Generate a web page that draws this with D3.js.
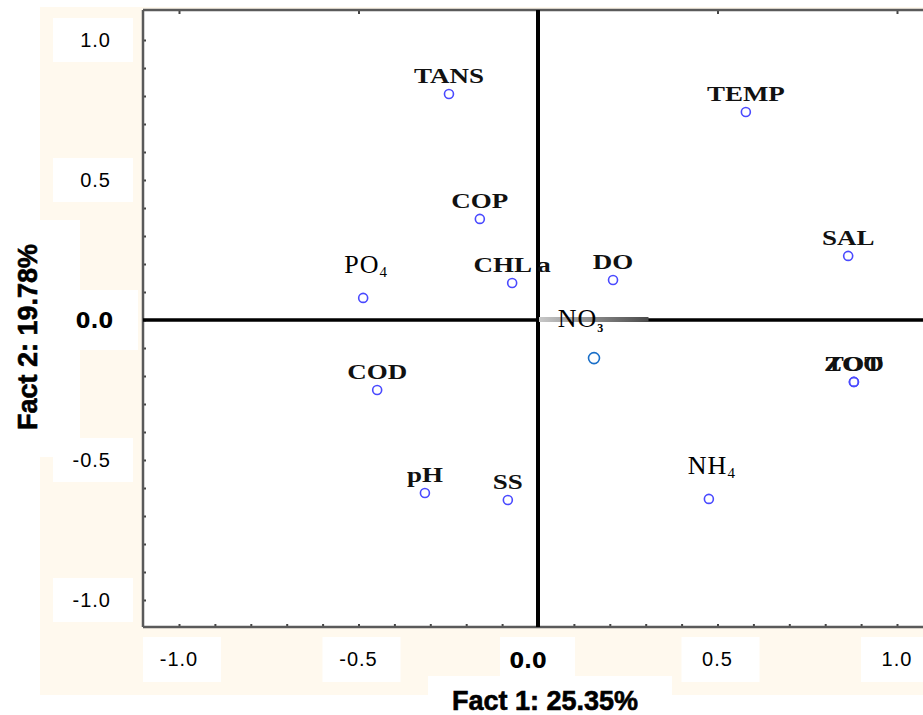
<!DOCTYPE html>
<html>
<head>
<meta charset="utf-8">
<script src="https://cdn.jsdelivr.net/npm/d3@7"></script>
<style>
body { margin: 0; background: #fff; }
</style>
</head>
<body>
<script>
// variables and their loadings on factor 1 / factor 2
const varNames = ["TANS", "TEMP", "COP", "SAL", "PO4", "CHL a", "DO", "NO3", "ZOO", "TOT", "COD", "pH", "SS", "NH4"];
const fact1 = [-0.248, 0.579, -0.162, 0.864, -0.487, -0.072, 0.209, 0.156, 0.880, 0.880, -0.448, -0.315, -0.084, 0.476];
const fact2 = [0.807, 0.743, 0.361, 0.229, 0.079, 0.132, 0.143, -0.136, -0.221, -0.221, -0.250, -0.618, -0.643, -0.639];

// labelled ticks and axis titles
const majorTicks = [-1.0, -0.5, 0.0, 0.5, 1.0];
const xTitle = "Fact 1: 25.35%";
const yTitle = "Fact 2: 19.78%";

// canvas and plot frame
const canvWidth = 923, canvHeight = 715;
const plot = {left: 143, top: 10, right: 923, bottom: 627};

const svg = d3.select("body").append("svg")
    .attr("width", canvWidth)
    .attr("height", canvHeight)
    .style("display", "block");

const xScale = d3.scaleLinear().domain([-1, 1]).range([179, 897]);
const yScale = d3.scaleLinear().domain([-1, 1]).range([600, 40]);

// cream panel behind the axes, white plot area on top
svg.append("rect").attr("width", canvWidth).attr("height", canvHeight).attr("fill", "#fff");
svg.append("rect")
    .attr("x", 40).attr("y", 7)
    .attr("width", canvWidth - 40).attr("height", 688)
    .attr("fill", "#fff9ee");
svg.append("rect")
    .attr("x", plot.left).attr("y", plot.top)
    .attr("width", plot.right - plot.left).attr("height", plot.bottom - plot.top)
    .attr("fill", "#fff");

// white boxes behind tick labels and titles
const nonZero = majorTicks.filter(d => d !== 0);
svg.selectAll("rect.ybox").data(nonZero).enter().append("rect")
    .attr("class", "ybox")
    .attr("x", 53).attr("y", d => yScale(d) - 22)
    .attr("width", 80).attr("height", 44)
    .attr("fill", "#fff");
svg.selectAll("rect.xbox").data(nonZero).enter().append("rect")
    .attr("class", "xbox")
    .attr("x", d => xScale(d) + 3 - 39).attr("y", 637)
    .attr("width", 78).attr("height", 45)
    .attr("fill", "#fff");
svg.append("rect").attr("x", 70).attr("y", yScale(0) - 30).attr("width", 68).attr("height", 60).attr("fill", "#fff");
svg.append("rect").attr("x", 500).attr("y", 637).attr("width", 75).attr("height", 40).attr("fill", "#fff");
svg.append("rect").attr("x", 428).attr("y", 676).attr("width", 244).attr("height", 39).attr("fill", "#fff");
svg.append("rect").attr("x", 0).attr("y", 220).attr("width", 80).attr("height", 237).attr("fill", "#fff");

// minor tick marks (every 0.1) pointing into the plot
const xAxis = d3.axisBottom(xScale).ticks(20).tickSize(-3).tickFormat("");
svg.append("g")
    .attr("id", "xAxis")
    .attr("transform", `translate(0,${plot.bottom})`)
    .call(xAxis)
    .call(g => g.select(".domain").remove())
    .selectAll("line").attr("stroke", "#444").attr("stroke-width", 2);

const yAxis = d3.axisLeft(yScale).ticks(20).tickSize(-3).tickFormat("");
svg.append("g")
    .attr("id", "yAxis")
    .attr("transform", `translate(${plot.left},0)`)
    .call(yAxis)
    .call(g => g.select(".domain").remove())
    .selectAll("line").attr("stroke", "#444").attr("stroke-width", 2);

const topAxis = d3.axisTop(xScale).tickValues(nonZero).tickSize(-4).tickFormat("");
svg.append("g")
    .attr("transform", `translate(0,${plot.top})`)
    .call(topAxis)
    .call(g => g.select(".domain").remove())
    .selectAll("line").attr("stroke", "#444").attr("stroke-width", 2);

// frame lines
const frame = svg.append("g").attr("stroke", "#5a5a5a").attr("stroke-width", 2.5);
frame.append("line").attr("x1", plot.left).attr("x2", plot.right).attr("y1", plot.top).attr("y2", plot.top);
frame.append("line").attr("x1", plot.left).attr("x2", plot.left).attr("y1", plot.top).attr("y2", plot.bottom);
frame.append("line").attr("x1", plot.left).attr("x2", plot.right).attr("y1", plot.bottom).attr("y2", plot.bottom);

// zero lines
svg.append("line")
    .attr("x1", plot.left).attr("x2", plot.right)
    .attr("y1", yScale(0)).attr("y2", yScale(0))
    .attr("stroke", "#000").attr("stroke-width", 3.5);
svg.append("line")
    .attr("x1", xScale(0)).attr("x2", xScale(0))
    .attr("y1", plot.top).attr("y2", plot.bottom)
    .attr("stroke", "#000").attr("stroke-width", 4);

// short grey vector along the x axis
const grad = svg.append("defs").append("linearGradient").attr("id", "vec");
grad.append("stop").attr("offset", "0%").attr("stop-color", "#c8c8c8");
grad.append("stop").attr("offset", "100%").attr("stop-color", "#4a4a4a");
svg.append("rect")
    .attr("x", xScale(0) + 1).attr("y", yScale(0) - 3)
    .attr("width", xScale(0.305) - xScale(0)).attr("height", 5)
    .attr("fill", "url(#vec)");

// tick labels
const tickFont = "'Liberation Sans', Arial, sans-serif";
svg.selectAll("text.ytick").data(nonZero).enter().append("text")
    .attr("class", "ytick")
    .attr("x", 111).attr("y", d => yScale(d) + 7)
    .attr("text-anchor", "end")
    .attr("font-family", tickFont).attr("font-size", 20)
    .attr("letter-spacing", 1)
    .text(d => d.toFixed(1));
svg.selectAll("text.xtick").data(nonZero).enter().append("text")
    .attr("class", "xtick")
    .attr("x", d => xScale(d)).attr("y", 666)
    .attr("text-anchor", "middle")
    .attr("font-family", tickFont).attr("font-size", 20)
    .attr("letter-spacing", 1)
    .text(d => d.toFixed(1));

// bold zero labels
svg.append("text")
    .attr("x", 113).attr("y", yScale(0) + 8)
    .attr("text-anchor", "end")
    .attr("font-family", "'DejaVu Sans', sans-serif").attr("font-weight", "bold").attr("font-size", 21)
    .text("0.0");
svg.append("text")
    .attr("x", 528).attr("y", 668)
    .attr("text-anchor", "middle")
    .attr("font-family", "'DejaVu Sans', sans-serif").attr("font-weight", "bold").attr("font-size", 21)
    .text("0.0");

// axis titles
svg.append("text")
    .attr("x", 545).attr("y", 710)
    .attr("text-anchor", "middle")
    .attr("font-family", tickFont).attr("font-weight", "bold").attr("font-size", 27)
    .attr("stroke", "#000").attr("stroke-width", 0.6)
    .text(xTitle);
svg.append("text")
    .attr("transform", "translate(37,337) rotate(-90)")
    .attr("text-anchor", "middle")
    .attr("font-family", tickFont).attr("font-weight", "bold").attr("font-size", 27)
    .attr("stroke", "#000").attr("stroke-width", 0.6)
    .text(yTitle);

// points
const points = varNames.map((name, i) => ({name: name, f1: fact1[i], f2: fact2[i]}));
const subRe = /^([A-Z]+)(\d)$/;

svg.selectAll("circle.pt").data(points).enter().append("circle")
    .attr("class", "pt")
    .attr("cx", d => xScale(d.f1))
    .attr("cy", d => yScale(d.f2))
    .attr("r", d => d.name === "NO3" ? 5.5 : 4.5)
    .attr("fill", "none")
    .attr("stroke", d => d.name === "NO3" ? "#1a6fc8" : "#4a4aff")
    .attr("stroke-width", 1.6);

// bold, wide serif labels
const plain = points.filter(d => !subRe.test(d.name));
svg.selectAll("g.lbl").data(plain).enter().append("g")
    .attr("class", "lbl")
    .attr("transform", d => `translate(${xScale(d.f1)},${yScale(d.f2) - 11}) scale(1.35,1)`)
    .append("text")
    .attr("text-anchor", "middle")
    .attr("font-family", "'Liberation Serif', 'Times New Roman', serif")
    .attr("font-weight", "bold")
    .attr("font-size", 20)
    .attr("fill", "#111")
    .text(d => d.name);

// chemical labels with subscripts
const nudge = {"NO3": [-13, -6]};
const chem = points.filter(d => subRe.test(d.name));
const chemText = svg.selectAll("text.chem").data(chem).enter().append("text")
    .attr("class", "chem")
    .attr("x", d => xScale(d.f1) + (nudge[d.name] ? nudge[d.name][0] : 3))
    .attr("y", d => yScale(d.f2) - 25 + (nudge[d.name] ? nudge[d.name][1] : 0))
    .attr("text-anchor", "middle")
    .attr("font-family", "'Liberation Serif', 'Times New Roman', serif")
    .attr("font-size", 26)
    .attr("letter-spacing", 1);
chemText.append("tspan").text(d => d.name.match(subRe)[1]);
chemText.append("tspan")
    .attr("dy", d => d.name === "NO3" ? 5 : 4)
    .attr("font-size", d => d.name === "NO3" ? 12 : 15)
    .attr("font-weight", d => d.name === "NO3" ? "bold" : "normal")
    .text(d => d.name.match(subRe)[2]);
</script>
</body>
</html>
